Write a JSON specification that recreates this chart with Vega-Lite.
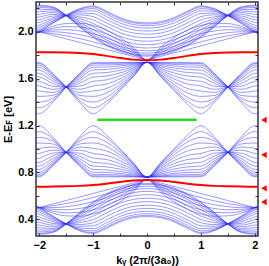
{
"$schema":"https://vega.github.io/schema/vega-lite/v6.json",
"width":222,"height":234,"autosize":"none",
"padding":{"left":36,"top":2,"right":11,"bottom":30},
"config":{"view":{"stroke":"#333","strokeWidth":1.5},"axis":{"labelFont":"Liberation Sans","labelFontSize":11,"labelFontWeight":"bold","labelColor":"#000","titleFont":"Liberation Sans","titleFontSize":11,"titleFontWeight":"bold","titleColor":"#000","grid":false,"domain":false,"tickColor":"#333","tickSize":-3,"labelPadding":6}},
"datasets":{
"bands":[
{"k":-2.25,"E":[1.382,1.407,1.441,1.478,1.517,1.555,1.590,1.623,1.653,1.679,1.700,1.718,1.730,1.738,1.118,1.093,1.059,1.022,0.983,0.945,0.910,0.877,0.847,0.821,0.800,0.782,0.770,0.762,2.227,2.219,2.205,2.187,2.165,2.140,2.114,2.086,2.060,2.035,2.013,1.995,1.981,1.973,0.273,0.281,0.295,0.313,0.335,0.360,0.386,0.414,0.440,0.465,0.487,0.505,0.519,0.527,2.03,2.01,1.99,1.97,1.95,1.93,0.47,0.49,0.51,0.53,0.55,0.57]},
{"k":-2,"E":[1.301,1.352,1.401,1.449,1.495,1.538,1.578,1.614,1.646,1.674,1.698,1.716,1.729,1.737,1.199,1.148,1.099,1.051,1.005,0.962,0.922,0.886,0.854,0.826,0.802,0.784,0.771,0.763,2.227,2.220,2.208,2.192,2.172,2.150,2.127,2.103,2.080,2.057,2.038,2.022,2.010,2.003,0.273,0.280,0.292,0.308,0.328,0.350,0.373,0.397,0.420,0.443,0.462,0.478,0.490,0.497,2.0,2.0,2.0,2.0,2.0,2.0,0.5,0.5,0.5,0.5,0.5,0.5]},
{"k":-1.75,"E":[1.397,1.412,1.432,1.457,1.483,1.510,1.536,1.560,1.582,1.601,1.617,1.630,1.639,1.645,1.103,1.088,1.068,1.043,1.017,0.990,0.964,0.940,0.918,0.899,0.883,0.870,0.861,0.855,2.213,2.209,2.201,2.191,2.179,2.165,2.150,2.135,2.120,2.106,2.094,2.084,2.076,2.072,0.287,0.291,0.299,0.309,0.321,0.335,0.350,0.365,0.380,0.394,0.406,0.416,0.424,0.428,1.97,1.985,2.001,2.016,2.031,2.047,0.53,0.515,0.499,0.484,0.469,0.453]},
{"k":-1.5,"E":[1.529,1.529,1.529,1.529,1.529,1.529,1.529,1.529,1.529,1.529,1.529,1.529,1.529,1.529,0.971,0.971,0.971,0.971,0.971,0.971,0.971,0.971,0.971,0.971,0.971,0.971,0.971,0.971,2.14,2.14,2.14,2.14,2.14,2.14,2.14,2.14,2.14,2.14,2.14,2.14,2.14,2.14,0.36,0.36,0.36,0.36,0.36,0.36,0.36,0.36,0.36,0.36,0.36,0.36,0.36,0.36,1.94,1.966,1.993,2.019,2.045,2.071,0.56,0.534,0.507,0.481,0.455,0.429]},
{"k":-1.25,"E":[1.645,1.639,1.630,1.617,1.601,1.582,1.560,1.536,1.510,1.483,1.457,1.432,1.412,1.397,0.855,0.861,0.870,0.883,0.899,0.918,0.940,0.964,0.990,1.017,1.043,1.068,1.088,1.103,2.042,2.047,2.055,2.066,2.080,2.095,2.112,2.128,2.145,2.160,2.174,2.185,2.193,2.198,0.458,0.453,0.445,0.434,0.420,0.405,0.388,0.372,0.355,0.340,0.326,0.315,0.307,0.302,1.91,1.943,1.976,2.008,2.041,2.074,0.59,0.557,0.524,0.492,0.459,0.426]},
{"k":-1,"E":[1.737,1.729,1.716,1.698,1.674,1.646,1.614,1.578,1.538,1.495,1.449,1.401,1.352,1.301,0.763,0.771,0.784,0.802,0.826,0.854,0.886,0.922,0.962,1.005,1.051,1.099,1.148,1.199,1.953,1.962,1.976,1.995,2.019,2.045,2.073,2.102,2.130,2.156,2.180,2.199,2.213,2.222,0.547,0.538,0.524,0.505,0.481,0.455,0.427,0.398,0.370,0.344,0.320,0.301,0.287,0.278,1.88,1.915,1.95,1.985,2.02,2.055,0.62,0.585,0.55,0.515,0.48,0.445]},
{"k":-0.75,"E":[1.738,1.730,1.718,1.700,1.679,1.653,1.623,1.590,1.555,1.517,1.478,1.441,1.407,1.382,0.762,0.770,0.782,0.800,0.821,0.847,0.877,0.910,0.945,0.983,1.022,1.059,1.093,1.118,1.883,1.893,1.909,1.930,1.955,1.984,2.014,2.046,2.076,2.105,2.130,2.151,2.167,2.177,0.617,0.607,0.591,0.570,0.545,0.516,0.486,0.454,0.424,0.395,0.370,0.349,0.333,0.323,1.85,1.883,1.916,1.948,1.981,2.014,0.65,0.617,0.584,0.552,0.519,0.486]},
{"k":-0.5,"E":[1.738,1.732,1.722,1.709,1.692,1.672,1.649,1.625,1.600,1.574,1.550,1.528,1.510,1.499,0.762,0.768,0.778,0.791,0.808,0.828,0.851,0.875,0.900,0.926,0.950,0.972,0.990,1.001,1.833,1.843,1.858,1.879,1.904,1.932,1.962,1.993,2.023,2.051,2.076,2.097,2.112,2.122,0.667,0.657,0.642,0.621,0.596,0.568,0.538,0.507,0.477,0.449,0.424,0.403,0.388,0.378,1.82,1.846,1.873,1.899,1.925,1.951,0.68,0.654,0.627,0.601,0.575,0.549]},
{"k":-0.25,"E":[1.739,1.735,1.730,1.722,1.712,1.701,1.689,1.677,1.664,1.652,1.640,1.631,1.624,1.619,0.761,0.765,0.770,0.778,0.788,0.799,0.811,0.823,0.836,0.848,0.860,0.869,0.876,0.881,1.803,1.812,1.828,1.848,1.872,1.900,1.930,1.960,1.990,2.017,2.042,2.062,2.077,2.087,0.697,0.688,0.672,0.652,0.628,0.600,0.570,0.540,0.510,0.483,0.458,0.438,0.423,0.413,1.79,1.805,1.821,1.836,1.851,1.867,0.71,0.695,0.679,0.664,0.649,0.633]},
{"k":0,"E":[1.74,1.74,1.74,1.74,1.74,1.74,1.74,1.74,1.74,1.74,1.74,1.74,1.74,1.74,0.76,0.76,0.76,0.76,0.76,0.76,0.76,0.76,0.76,0.76,0.76,0.76,0.76,0.76,1.793,1.802,1.818,1.838,1.862,1.890,1.920,1.950,1.980,2.007,2.032,2.052,2.067,2.077,0.707,0.698,0.682,0.662,0.638,0.610,0.580,0.550,0.520,0.493,0.468,0.448,0.433,0.423,1.76,1.76,1.76,1.76,1.76,1.76,0.74,0.74,0.74,0.74,0.74,0.74]},
{"k":0.25,"E":[1.739,1.735,1.730,1.722,1.712,1.701,1.689,1.677,1.664,1.652,1.640,1.631,1.624,1.619,0.761,0.765,0.770,0.778,0.788,0.799,0.811,0.823,0.836,0.848,0.860,0.869,0.876,0.881,1.803,1.812,1.828,1.848,1.872,1.900,1.930,1.960,1.990,2.017,2.042,2.062,2.077,2.087,0.697,0.688,0.672,0.652,0.628,0.600,0.570,0.540,0.510,0.483,0.458,0.438,0.423,0.413,1.79,1.805,1.821,1.836,1.851,1.867,0.71,0.695,0.679,0.664,0.649,0.633]},
{"k":0.5,"E":[1.738,1.732,1.722,1.709,1.692,1.672,1.649,1.625,1.600,1.574,1.550,1.528,1.510,1.499,0.762,0.768,0.778,0.791,0.808,0.828,0.851,0.875,0.900,0.926,0.950,0.972,0.990,1.001,1.833,1.843,1.858,1.879,1.904,1.932,1.962,1.993,2.023,2.051,2.076,2.097,2.112,2.122,0.667,0.657,0.642,0.621,0.596,0.568,0.538,0.507,0.477,0.449,0.424,0.403,0.388,0.378,1.82,1.846,1.873,1.899,1.925,1.951,0.68,0.654,0.627,0.601,0.575,0.549]},
{"k":0.75,"E":[1.738,1.730,1.718,1.700,1.679,1.653,1.623,1.590,1.555,1.517,1.478,1.441,1.407,1.382,0.762,0.770,0.782,0.800,0.821,0.847,0.877,0.910,0.945,0.983,1.022,1.059,1.093,1.118,1.883,1.893,1.909,1.930,1.955,1.984,2.014,2.046,2.076,2.105,2.130,2.151,2.167,2.177,0.617,0.607,0.591,0.570,0.545,0.516,0.486,0.454,0.424,0.395,0.370,0.349,0.333,0.323,1.85,1.883,1.916,1.948,1.981,2.014,0.65,0.617,0.584,0.552,0.519,0.486]},
{"k":1,"E":[1.737,1.729,1.716,1.698,1.674,1.646,1.614,1.578,1.538,1.495,1.449,1.401,1.352,1.301,0.763,0.771,0.784,0.802,0.826,0.854,0.886,0.922,0.962,1.005,1.051,1.099,1.148,1.199,1.953,1.962,1.976,1.995,2.019,2.045,2.073,2.102,2.130,2.156,2.180,2.199,2.213,2.222,0.547,0.538,0.524,0.505,0.481,0.455,0.427,0.398,0.370,0.344,0.320,0.301,0.287,0.278,1.88,1.915,1.95,1.985,2.02,2.055,0.62,0.585,0.55,0.515,0.48,0.445]},
{"k":1.25,"E":[1.645,1.639,1.630,1.617,1.601,1.582,1.560,1.536,1.510,1.483,1.457,1.432,1.412,1.397,0.855,0.861,0.870,0.883,0.899,0.918,0.940,0.964,0.990,1.017,1.043,1.068,1.088,1.103,2.042,2.047,2.055,2.066,2.080,2.095,2.112,2.128,2.145,2.160,2.174,2.185,2.193,2.198,0.458,0.453,0.445,0.434,0.420,0.405,0.388,0.372,0.355,0.340,0.326,0.315,0.307,0.302,1.91,1.943,1.976,2.008,2.041,2.074,0.59,0.557,0.524,0.492,0.459,0.426]},
{"k":1.5,"E":[1.529,1.529,1.529,1.529,1.529,1.529,1.529,1.529,1.529,1.529,1.529,1.529,1.529,1.529,0.971,0.971,0.971,0.971,0.971,0.971,0.971,0.971,0.971,0.971,0.971,0.971,0.971,0.971,2.14,2.14,2.14,2.14,2.14,2.14,2.14,2.14,2.14,2.14,2.14,2.14,2.14,2.14,0.36,0.36,0.36,0.36,0.36,0.36,0.36,0.36,0.36,0.36,0.36,0.36,0.36,0.36,1.94,1.966,1.993,2.019,2.045,2.071,0.56,0.534,0.507,0.481,0.455,0.429]},
{"k":1.75,"E":[1.397,1.412,1.432,1.457,1.483,1.510,1.536,1.560,1.582,1.601,1.617,1.630,1.639,1.645,1.103,1.088,1.068,1.043,1.017,0.990,0.964,0.940,0.918,0.899,0.883,0.870,0.861,0.855,2.213,2.209,2.201,2.191,2.179,2.165,2.150,2.135,2.120,2.106,2.094,2.084,2.076,2.072,0.287,0.291,0.299,0.309,0.321,0.335,0.350,0.365,0.380,0.394,0.406,0.416,0.424,0.428,1.97,1.985,2.001,2.016,2.031,2.047,0.53,0.515,0.499,0.484,0.469,0.453]},
{"k":2,"E":[1.301,1.352,1.401,1.449,1.495,1.538,1.578,1.614,1.646,1.674,1.698,1.716,1.729,1.737,1.199,1.148,1.099,1.051,1.005,0.962,0.922,0.886,0.854,0.826,0.802,0.784,0.771,0.763,2.227,2.220,2.208,2.192,2.172,2.150,2.127,2.103,2.080,2.057,2.038,2.022,2.010,2.003,0.273,0.280,0.292,0.308,0.328,0.350,0.373,0.397,0.420,0.443,0.462,0.478,0.490,0.497,2.0,2.0,2.0,2.0,2.0,2.0,0.5,0.5,0.5,0.5,0.5,0.5]},
{"k":2.25,"E":[1.382,1.407,1.441,1.478,1.517,1.555,1.590,1.623,1.653,1.679,1.700,1.718,1.730,1.738,1.118,1.093,1.059,1.022,0.983,0.945,0.910,0.877,0.847,0.821,0.800,0.782,0.770,0.762,2.227,2.219,2.205,2.187,2.165,2.140,2.114,2.086,2.060,2.035,2.013,1.995,1.981,1.973,0.273,0.281,0.295,0.313,0.335,0.360,0.386,0.414,0.440,0.465,0.487,0.505,0.519,0.527,2.03,2.01,1.99,1.97,1.95,1.93,0.47,0.49,0.51,0.53,0.55,0.57]}
],
"red":[
{"k":-2.25,"hi":1.826,"lo":0.678},{"k":-2,"hi":1.826,"lo":0.678},{"k":-1.75,"hi":1.826,"lo":0.679},{"k":-1.5,"hi":1.824,"lo":0.681},{"k":-1.25,"hi":1.819,"lo":0.685},{"k":-1,"hi":1.810,"lo":0.692},{"k":-0.75,"hi":1.795,"lo":0.703},{"k":-0.5,"hi":1.777,"lo":0.718},{"k":-0.25,"hi":1.763,"lo":0.730},{"k":0,"hi":1.757,"lo":0.735},{"k":0.25,"hi":1.763,"lo":0.730},{"k":0.5,"hi":1.777,"lo":0.718},{"k":0.75,"hi":1.795,"lo":0.703},{"k":1,"hi":1.810,"lo":0.692},{"k":1.25,"hi":1.819,"lo":0.685},{"k":1.5,"hi":1.824,"lo":0.681},{"k":1.75,"hi":1.826,"lo":0.679},{"k":2,"hi":1.826,"lo":0.678},{"k":2.25,"hi":1.826,"lo":0.678}
],
"green":[{"k":-0.92,"E":1.25},{"k":0.92,"E":1.25}],
"tri":[{"k":2.17,"E":1.248},{"k":2.17,"E":0.95},{"k":2.17,"E":0.664},{"k":2.17,"E":0.547}]
},
"resolve":{"axis":{"x":"independent","y":"independent"}},
"layer":[
{"data":{"name":"bands"},
"transform":[{"flatten":["E"]},{"window":[{"op":"row_number","as":"band"}],"groupby":["k"]}],
"mark":{"type":"line","interpolate":"monotone","stroke":"#2a2aff","strokeWidth":0.8,"opacity":0.6,"clip":true},
"encoding":{
"x":{"field":"k","type":"quantitative","scale":{"domain":[-2.06,2.06],"nice":false,"zero":false},"axis":{"orient":"bottom","values":[-2,-1.5,-1,-0.5,0,0.5,1,1.5,2],"labelExpr":"datum.value % 1 == 0 ? format(datum.value,'d') : ''","title":"kᵧ (2π/(3a₀))","titlePadding":4}},
"y":{"field":"E","type":"quantitative","scale":{"domain":[0.257,2.255],"nice":false,"zero":false},"axis":{"orient":"left","values":[0.4,0.6,0.8,1.0,1.2,1.4,1.6,1.8,2.0,2.2],"labelExpr":"round(datum.value*10) % 4 == 0 ? format(datum.value,'.1f') : ''","title":"E-Eꜰ [eV]","titlePadding":4}},
"detail":{"field":"band","type":"nominal"}}},
{"data":{"name":"red"},
"transform":[{"fold":["hi","lo"],"as":["s","E"]}],
"mark":{"type":"line","interpolate":"monotone","stroke":"#ff0000","strokeWidth":2,"clip":true},
"encoding":{
"x":{"field":"k","type":"quantitative","axis":{"orient":"top","values":[-2,-1.5,-1,-0.5,0,0.5,1,1.5,2],"labels":false,"title":null}},
"y":{"field":"E","type":"quantitative","axis":{"orient":"right","values":[0.4,0.6,0.8,1.0,1.2,1.4,1.6,1.8,2.0,2.2],"labels":false,"title":null}},
"detail":{"field":"s","type":"nominal"}}},
{"data":{"name":"green"},
"mark":{"type":"line","stroke":"#22dd22","strokeWidth":2.5},
"encoding":{"x":{"field":"k","type":"quantitative","axis":null},"y":{"field":"E","type":"quantitative","axis":null}}},
{"data":{"name":"tri"},
"mark":{"type":"point","shape":"triangle-left","filled":true,"color":"#ff0000","size":40,"opacity":1,"clip":false},
"encoding":{"x":{"field":"k","type":"quantitative","axis":null},"y":{"field":"E","type":"quantitative","axis":null}}}
]
}
